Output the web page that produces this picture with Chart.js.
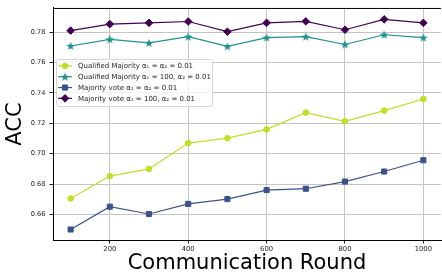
<!DOCTYPE html>
<html>
<head>
<meta charset="utf-8">
<script src="https://cdn.jsdelivr.net/npm/chart.js@4/dist/chart.umd.min.js"></script>
<style>
html, body { margin: 0; padding: 0; background: #fff; overflow: hidden; }
</style>
</head>
<body>
<canvas id="myChart" width="446" height="276"></canvas>
<script>
(function () {
    'use strict'

    // data
    var rounds = [100, 200, 300, 400, 500, 600, 700, 800, 900, 1000]
    var qmSmall = [0.6706, 0.6853, 0.6900, 0.7070, 0.7102, 0.7160, 0.7270, 0.7213, 0.7283, 0.7360]
    var qmLarge = [0.7708, 0.7752, 0.7728, 0.7769, 0.7705, 0.7763, 0.7769, 0.7718, 0.7782, 0.7763]
    var mvSmall = [0.6502, 0.6652, 0.6604, 0.6670, 0.6702, 0.6761, 0.6770, 0.6817, 0.6883, 0.6957]
    var mvLarge = [0.7809, 0.7852, 0.7860, 0.7869, 0.7802, 0.7860, 0.7870, 0.7815, 0.7883, 0.7860]
    var seriesNames = [
        'Qualified Majority α₁ = α₂ = 0.01',
        'Qualified Majority α₁ = 100, α₂ = 0.01',
        'Majority vote α₁ = α₂ = 0.01',
        'Majority vote α₁ = 100, α₂ = 0.01',
    ]
    var xTicks = [200, 400, 600, 800, 1000]
    var yTicks = [0.66, 0.68, 0.70, 0.72, 0.74, 0.76, 0.78]

    var colors = ['#bddf26', '#21918c', '#3b528b', '#440154']

    // filled five-point star like matplotlib's '*'
    function starImage(color) {
        var c = document.createElement('canvas')
        c.width = 10
        c.height = 10
        var g = c.getContext('2d')
        g.fillStyle = color
        g.beginPath()
        for (var k = 0; k < 10; k++) {
            var r = k % 2 === 0 ? 4.6 : 1.9
            var ang = -Math.PI / 2 + k * Math.PI / 5
            g.lineTo(5 + r * Math.cos(ang), 5.4 + r * Math.sin(ang))
        }
        g.closePath()
        g.fill()
        return c
    }

    var styles = ['circle', starImage(colors[1]), 'rect', 'rectRot']
    var radii = [2.8, 4, 3.6, 3.8]
    var values = [qmSmall, qmLarge, mvSmall, mvLarge]

    var datasets = values.map(function (vals, i) {
        return {
            label: seriesNames[i],
            data: rounds.map(function (r, j) { return { x: r, y: vals[j] } }),
            borderColor: colors[i],
            backgroundColor: colors[i],
            borderWidth: 1.2,
            pointStyle: styles[i],
            pointRadius: radii[i],
            pointBorderWidth: 1,
            pointBackgroundColor: colors[i],
            pointBorderColor: colors[i],
        }
    })

    // frame on top + legend inside the axes
    var frameLegend = {
        id: 'frameLegend',
        afterDraw: function (chart) {
            var ctx = chart.ctx
            var a = chart.chartArea
            ctx.save()
            ctx.strokeStyle = '#000'
            ctx.lineWidth = 1
            ctx.beginPath()
            ctx.moveTo(a.left, a.top + 0.5)
            ctx.lineTo(a.right, a.top + 0.5)
            ctx.stroke()

            var bx = a.left + 3, by = a.top + 51, bw = 156, bh = 47
            ctx.fillStyle = 'rgba(255,255,255,0.8)'
            ctx.strokeStyle = '#d6d6d6'
            ctx.beginPath()
            ctx.roundRect(bx + 0.5, by + 0.5, bw, bh, 2)
            ctx.fill()
            ctx.stroke()

            ctx.font = '7px "DejaVu Sans"'
            ctx.textBaseline = 'middle'
            ctx.textAlign = 'left'
            for (var i = 0; i < seriesNames.length; i++) {
                var y = by + 7 + i * 10.8
                ctx.strokeStyle = colors[i]
                ctx.fillStyle = colors[i]
                ctx.lineWidth = 1.2
                ctx.beginPath()
                ctx.moveTo(bx + 2, y)
                ctx.lineTo(bx + 16, y)
                ctx.stroke()
                ctx.lineWidth = 1
                Chart.helpers.drawPoint(ctx, {
                    pointStyle: styles[i],
                    radius: radii[i],
                    borderWidth: 1,
                    rotation: 0,
                }, bx + 9, y)
                ctx.fillStyle = '#222'
                ctx.fillText(seriesNames[i], bx + 22, y + 0.5)
            }
            ctx.restore()
        }
    }

    var ctx = document.getElementById('myChart')
    // eslint-disable-next-line no-unused-vars
    var myChart = new Chart(ctx, {
        type: 'line',
        data: { datasets: datasets },
        options: {
            responsive: false,
            animation: false,
            layout: { padding: { top: 5, left: 0, right: 0, bottom: 0 } },
            plugins: {
                legend: { display: false },
                tooltip: { enabled: false },
            },
            scales: {
                x: {
                    type: 'linear',
                    min: 55,
                    max: 1045,
                    afterBuildTicks: function (s) {
                        s.ticks = xTicks.map(function (v) { return { value: v } })
                    },
                    afterFit: function (s) { s.height = 36 },
                    ticks: {
                        font: { family: 'DejaVu Sans', size: 6.8 },
                        color: '#222',
                        padding: 2,
                        maxRotation: 0,
                        callback: function (v) { return String(v) },
                    },
                    grid: { color: '#c4c4c4', tickColor: '#222', tickLength: 3.5 },
                    border: { color: '#000', width: 1 },
                    title: {
                        display: true,
                        text: 'Communication Round',
                        font: { family: 'DejaVu Sans', size: 21 },
                        color: '#000',
                        padding: { top: 0, bottom: 0 },
                    },
                },
                y: {
                    min: 0.6433,
                    max: 0.7958,
                    afterBuildTicks: function (s) {
                        s.ticks = yTicks.map(function (v) { return { value: v } })
                    },
                    afterFit: function (s) { s.width = 53 },
                    ticks: {
                        font: { family: 'DejaVu Sans', size: 6.6 },
                        color: '#222',
                        padding: 4,
                        callback: function (v) { return v.toFixed(2) },
                    },
                    grid: { color: '#c4c4c4', tickColor: '#222', tickLength: 3.5 },
                    border: { color: '#000', width: 1 },
                    title: {
                        display: true,
                        text: 'ACC',
                        font: { family: 'DejaVu Sans', size: 21 },
                        color: '#000',
                        padding: { top: 2.5, bottom: 0 },
                    },
                },
            },
        },
        plugins: [frameLegend],
    })
})()
</script>
</body>
</html>
